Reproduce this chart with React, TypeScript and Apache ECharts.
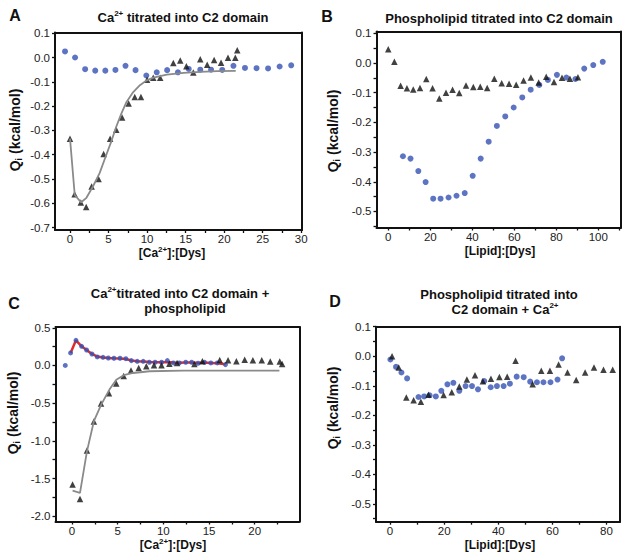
import React, { useEffect, useRef } from "react";
import * as echarts from "echarts";

const FONT = '"Liberation Sans", Arial, Helvetica, sans-serif';
const BLUE = "#3551b4";
const BLACK = "#111111";
const GRAY = "#8a8a8a";
const RED = "#e32b2b";

// ---------- Panel A : Ca2+ titrated into C2 domain ----------
const aCircles: number[][] = [
  [-0.65, 0.025], [0.65, 0.0], [1.96, -0.048], [3.27, -0.054], [4.58, -0.054], [5.89, -0.051],
  [7.2, -0.034], [8.5, -0.052], [9.9, -0.074], [11.25, -0.061], [12.6, -0.052], [14.0, -0.061],
  [15.4, -0.047], [16.9, -0.05], [18.3, -0.05], [19.75, -0.051], [21.2, -0.034], [22.7, -0.043],
  [24.2, -0.044], [25.7, -0.045], [27.2, -0.037], [28.7, -0.032],
];
const aTriangles: number[][] = [
  [0, -0.334], [0.6, -0.563], [1.4, -0.597], [2.1, -0.615], [2.8, -0.531], [3.7, -0.5],
  [4.36, -0.397], [5.2, -0.334], [6.0, -0.297], [6.76, -0.247], [7.6, -0.189], [8.4, -0.163],
  [9.2, -0.163], [10.0, -0.092], [10.8, -0.083], [11.7, -0.083], [13.4, -0.023], [14.3, -0.012],
  [15.1, -0.036], [16.0, -0.062], [16.9, -0.007], [17.8, -0.03], [18.7, -0.01], [19.6, -0.022],
  [20.5, -0.001], [21.45, -0.001], [21.7, 0.03],
];
const aFit: number[][] = [
  [0, -0.334], [0.61, -0.566], [1.44, -0.596], [2.09, -0.579], [2.97, -0.531], [3.84, -0.476],
  [4.71, -0.4], [5.36, -0.345], [6.02, -0.283], [6.67, -0.23], [7.33, -0.183], [8.2, -0.142],
  [9.07, -0.114], [9.94, -0.094], [10.82, -0.083], [12.56, -0.07], [14.74, -0.063],
  [16.92, -0.059], [19.1, -0.056], [21.5, -0.055],
];
const aXTicks = [0, 2.5, 5, 7.5, 10, 12.5, 15, 17.5, 20, 22.5, 25, 27.5, 30];
const aXLabels = [0, 5, 10, 15, 20, 25, 30];
const aYTicks = [-0.7, -0.6, -0.5, -0.4, -0.3, -0.2, -0.1, 0, 0.1];
const aYLabels = [-0.7, -0.6, -0.5, -0.4, -0.3, -0.2, -0.1, 0, 0.1];

// ---------- Panel B : Phospholipid titrated into C2 domain ----------
const bCircles: number[][] = [
  [7, -0.314], [10.6, -0.322], [14.3, -0.364], [17.8, -0.401], [21.4, -0.457], [24.9, -0.457],
  [28.7, -0.453], [32.5, -0.447], [36.4, -0.438], [40.2, -0.38], [44, -0.322], [47.8, -0.265],
  [51.7, -0.212], [55.7, -0.18], [59.7, -0.15], [63.8, -0.116], [67.8, -0.09], [71.9, -0.074],
  [76, -0.057], [80.3, -0.04], [84.8, -0.049], [89.1, -0.054], [93.3, -0.019], [97.6, -0.007],
  [102.1, 0.004],
];
const bTriangles: number[][] = [
  [0, 0.046], [2.9, 0.004], [5.9, -0.077], [8.9, -0.085], [11.9, -0.089], [15.1, -0.084],
  [18.1, -0.054], [21.1, -0.085], [24.3, -0.12], [27.5, -0.1], [30.6, -0.09], [33.8, -0.101],
  [37, -0.076], [40.5, -0.081], [43.8, -0.08], [47.1, -0.084], [50.5, -0.053], [54, -0.068],
  [57.5, -0.07], [60.9, -0.073], [64.4, -0.059], [67.9, -0.049], [71.6, -0.066], [75.2, -0.046],
  [78.9, -0.064], [82.7, -0.05], [86.5, -0.053], [90.3, -0.048],
];
const bXTicks = [0, 10, 20, 30, 40, 50, 60, 70, 80, 90, 100, 110];
const bXLabels = [0, 20, 40, 60, 80, 100];
const bYTicks = [-0.55, -0.5, -0.45, -0.4, -0.35, -0.3, -0.25, -0.2, -0.15, -0.1, -0.05, 0, 0.05, 0.1];
const bYLabels = [-0.5, -0.4, -0.3, -0.2, -0.1, 0, 0.1];

// ---------- Panel C : Ca2+ titrated into C2 domain + phospholipid ----------
const cCircles: number[][] = [
  [-0.73, 0.0], [-0.15, 0.166], [0.44, 0.333], [1.06, 0.254], [1.6, 0.205], [2.19, 0.152],
  [2.77, 0.113], [3.4, 0.108], [3.98, 0.099], [4.6, 0.095], [5.26, 0.095], [5.9, 0.09],
  [6.5, 0.064], [7.15, 0.055], [7.8, 0.055], [8.47, 0.042], [9.1, 0.042], [9.8, 0.042],
  [10.44, 0.064], [11.1, 0.033], [11.75, 0.033], [12.45, 0.042], [13.1, 0.042], [13.8, 0.029],
  [14.5, 0.042], [15.2, 0.033], [15.9, 0.033], [16.8, 0.011],
];
const cRedFit: number[][] = [
  [-0.15, 0.166], [0.44, 0.333], [1.06, 0.254], [1.6, 0.205], [2.19, 0.152], [2.77, 0.118],
  [3.4, 0.106], [3.98, 0.099], [4.6, 0.095], [5.26, 0.093], [5.9, 0.085], [6.5, 0.066],
  [7.15, 0.057], [7.8, 0.053], [8.47, 0.046], [9.1, 0.043], [9.8, 0.042], [10.44, 0.045],
  [11.1, 0.038], [11.75, 0.036], [12.45, 0.04], [13.1, 0.04], [13.8, 0.034], [14.5, 0.038],
  [15.2, 0.034], [15.9, 0.03], [16.8, 0.015],
];
const cTriangles: number[][] = [
  [0.07, -1.58], [0.88, -1.77], [1.64, -1.128], [2.4, -0.744], [3.18, -0.506], [4.05, -0.369],
  [4.85, -0.241], [5.66, -0.139], [6.46, -0.068], [7.3, -0.033], [8.14, -0.011], [8.98, 0.002],
  [9.8, 0.002], [10.66, 0.024], [11.5, 0.033], [13.4, 0.02], [14.27, 0.055], [16.17, 0.073],
  [17.08, 0.068], [17.99, 0.055], [18.9, 0.077], [19.8, 0.068], [20.77, 0.068], [21.7, 0.051],
  [22.74, 0.051], [23.0, 0.02],
];
const cFit: number[][] = [
  [0.07, -1.66], [0.88, -1.69], [1.64, -1.14], [2.4, -0.74], [3.2, -0.52], [4.1, -0.32],
  [4.85, -0.19], [5.66, -0.13], [6.7, -0.1], [8.5, -0.077], [12.2, -0.068], [15.8, -0.068],
  [19.4, -0.068], [22.7, -0.068],
];
const cXTicks = [0, 2.5, 5, 7.5, 10, 12.5, 15, 17.5, 20, 22.5, 25];
const cXLabels = [0, 5, 10, 15, 20, 25];
const cYTicks = [-2, -1.75, -1.5, -1.25, -1, -0.75, -0.5, -0.25, 0, 0.25, 0.5];
const cYLabels = [-2, -1.5, -1, -0.5, 0, 0.5];

// ---------- Panel D : Phospholipid titrated into C2 domain + Ca2+ ----------
const dCircles: number[][] = [
  [0.12, -0.011], [2.2, -0.036], [4.2, -0.055], [6.3, -0.075], [10.5, -0.138], [12.6, -0.136],
  [14.6, -0.132], [16.9, -0.136], [18.95, -0.117], [21.2, -0.095], [23.4, -0.09], [25.6, -0.117],
  [27.9, -0.101], [30.3, -0.101], [32.5, -0.112], [34.8, -0.084], [37.2, -0.105], [39.5, -0.101],
  [41.97, -0.101], [44.3, -0.093], [46.8, -0.069], [49.4, -0.071], [51.8, -0.086], [54.3, -0.088],
  [56.7, -0.088], [59.3, -0.088], [61.9, -0.079], [63.6, -0.007],
];
const dTriangles: number[][] = [
  [0.74, 0.0], [3.2, -0.038], [6.0, -0.14], [8.7, -0.149], [11.4, -0.154], [14.2, -0.13],
  [19.8, -0.131], [22.8, -0.122], [25.6, -0.102], [28.4, -0.079], [31.4, -0.064], [34.3, -0.085],
  [37.3, -0.076], [40.4, -0.07], [43.3, -0.069], [46.4, -0.015], [52.7, -0.095], [55.9, -0.049],
  [59.1, -0.049], [62.3, -0.028], [65.6, -0.055], [68.8, -0.08], [72.1, -0.055], [75.4, -0.038],
  [78.9, -0.046], [82.3, -0.046],
];
const dXTicks = [0, 10, 20, 30, 40, 50, 60, 70, 80];
const dXLabels = [0, 20, 40, 60, 80];
const dYTicks = [-0.55, -0.5, -0.45, -0.4, -0.35, -0.3, -0.25, -0.2, -0.15, -0.1, -0.05, 0, 0.05, 0.1];
const dYLabels = [-0.5, -0.4, -0.3, -0.2, -0.1, 0, 0.1];

// ---------- layout ----------
const grids = [
  { left: 55, top: 32.5, width: 247, height: 197.5 },
  { left: 376.5, top: 31.5, width: 244.5, height: 196 },
  { left: 55.5, top: 327, width: 244, height: 194.5 },
  { left: 376, top: 326.7, width: 244, height: 195 },
];

const xRanges = [
  [-1.95, 30.1],
  [-5.6, 110.8],
  [-1.8, 24.9],
  [-5.2, 85],
];
const yRanges = [
  [-0.71, 0.103],
  [-0.554, 0.106],
  [-2.07, 0.51],
  [-0.56, 0.1],
];

const frameLine = { show: true, onZero: false, lineStyle: { color: BLACK, width: 2 } };

function xAxisOf(i: number, ticks: number[], labels: number[]) {
  return {
    type: "value",
    gridIndex: i,
    position: "bottom",
    min: xRanges[i][0],
    max: xRanges[i][1],
    axisLine: frameLine,
    axisTick: { show: true, length: 3, customValues: ticks, lineStyle: { color: BLACK, width: 1.3 } },
    axisLabel: {
      customValues: labels,
      margin: 3,
      fontSize: 11.5,
      color: "#222",
      fontFamily: FONT,
      formatter: (v: number) => String(Math.round(v)),
    },
    splitLine: { show: false },
  };
}

function yAxisOf(i: number, ticks: number[], labels: number[]) {
  return {
    type: "value",
    gridIndex: i,
    position: "left",
    min: yRanges[i][0],
    max: yRanges[i][1],
    axisLine: frameLine,
    axisTick: { show: true, length: 3, customValues: ticks, lineStyle: { color: BLACK, width: 1.3 } },
    axisLabel: {
      customValues: labels,
      margin: 5,
      fontSize: 11.5,
      color: "#222",
      fontFamily: FONT,
      formatter: (v: number) => v.toFixed(1),
    },
    splitLine: { show: false },
  };
}

// plain border axes (top / right edges of each frame)
function edgeAxis(i: number, position: string, range: number[]) {
  return {
    type: "value",
    gridIndex: i,
    position,
    min: range[0],
    max: range[1],
    axisLine: frameLine,
    axisTick: { show: false },
    axisLabel: { show: false },
    splitLine: { show: false },
  };
}

function circles(i: number, data: number[][], size = 6) {
  return {
    type: "scatter",
    xAxisIndex: i,
    yAxisIndex: i,
    data,
    symbol: "circle",
    symbolSize: size,
    itemStyle: { color: BLUE },
    z: 3,
  };
}
function triangles(i: number, data: number[][]) {
  return {
    type: "scatter",
    xAxisIndex: i,
    yAxisIndex: i,
    data,
    symbol: "triangle",
    symbolSize: 6.5,
    itemStyle: { color: BLACK },
    z: 3,
  };
}
function fitLine(i: number, data: number[][], color: string, width: number, z: number) {
  return {
    type: "line",
    xAxisIndex: i,
    yAxisIndex: i,
    data,
    symbol: "none",
    showSymbol: false,
    lineStyle: { color, width },
    z,
  };
}

const rich = {
  t: { fontSize: 13, fontWeight: "bold", fontFamily: FONT, fill: BLACK, lineHeight: 16 },
  ts: { fontSize: 8, fontWeight: "bold", fontFamily: FONT, fill: BLACK, lineHeight: 8, padding: [0, 0, 8, 0] },
  n: { fontSize: 12, fontWeight: "bold", fontFamily: FONT, fill: BLACK, lineHeight: 13 },
  ns: { fontSize: 8, fontWeight: "bold", fontFamily: FONT, fill: BLACK, lineHeight: 6, padding: [0, 0, 7, 0] },
  q: { fontSize: 14, fontWeight: "bold", fontFamily: FONT, fill: BLACK, lineHeight: 17 },
  qs: { fontSize: 9, fontWeight: "bold", fontFamily: FONT, fill: BLACK, lineHeight: 9, padding: [8, 0, 0, 0] },
  L: { fontSize: 16, fontWeight: "bold", fontFamily: FONT, fill: BLACK, lineHeight: 18 },
};

function txt(x: number, y: number, text: string, rotation = 0) {
  return {
    type: "text",
    x,
    y,
    rotation,
    silent: true,
    style: { text, rich, align: "center", verticalAlign: "middle", fill: BLACK },
  };
}

const yName = "{q|Q}{qs|i}{q| (kcal/mol)}";
const caName = "{n|[Ca}{ns|2+}{n|]:[Dys]}";
const lipidName = "{n|[Lipid]:[Dys]}";

export default function App() {
  const ref = useRef<HTMLDivElement>(null);
  useEffect(() => {
    if (!ref.current) return;
    const chart = echarts.init(ref.current, undefined, { renderer: "svg" });
    const option: any = {
      animation: false,
      backgroundColor: "#ffffff",
      grid: grids.map((g) => ({ ...g, show: false, containLabel: false })),
      xAxis: [
        xAxisOf(0, aXTicks, aXLabels),
        xAxisOf(1, bXTicks, bXLabels),
        xAxisOf(2, cXTicks, cXLabels),
        xAxisOf(3, dXTicks, dXLabels),
        edgeAxis(0, "top", xRanges[0]),
        edgeAxis(1, "top", xRanges[1]),
        edgeAxis(2, "top", xRanges[2]),
        edgeAxis(3, "top", xRanges[3]),
      ],
      yAxis: [
        yAxisOf(0, aYTicks, aYLabels),
        yAxisOf(1, bYTicks, bYLabels),
        yAxisOf(2, cYTicks, cYLabels),
        yAxisOf(3, dYTicks, dYLabels),
        edgeAxis(0, "right", yRanges[0]),
        edgeAxis(1, "right", yRanges[1]),
        edgeAxis(2, "right", yRanges[2]),
        edgeAxis(3, "right", yRanges[3]),
      ],
      series: [
        circles(0, aCircles),
        triangles(0, aTriangles),
        fitLine(0, aFit, GRAY, 1.8, 4),
        circles(1, bCircles),
        triangles(1, bTriangles),
        fitLine(2, cRedFit, RED, 2.5, 2),
        circles(2, cCircles, 5),
        triangles(2, cTriangles),
        fitLine(2, cFit, GRAY, 1.8, 4),
        circles(3, dCircles),
        triangles(3, dTriangles),
      ],
      graphic: [
        txt(15, 15, "{L|A}"),
        txt(327, 16, "{L|B}"),
        txt(14, 303, "{L|C}"),
        txt(335, 301, "{L|D}"),
        txt(183, 17, "{t|Ca}{ts|2+}{t| titrated into C2 domain}"),
        txt(499, 18, "{t|Phospholipid titrated into C2 domain}"),
        txt(180, 293, "{t|Ca}{ts|2+}{t|titrated into C2 domain +}"),
        txt(185, 308, "{t|phospholipid}"),
        txt(499, 294, "{t|Phospholipid titrated into}"),
        txt(505, 309, "{t|C2 domain + Ca}{ts|2+}"),
        txt(15, 130, yName, Math.PI / 2),
        txt(333, 131, yName, Math.PI / 2),
        txt(13, 413, yName, Math.PI / 2),
        txt(333, 408, yName, Math.PI / 2),
        txt(172, 253, caName),
        txt(500, 251, lipidName),
        txt(173, 545, caName),
        txt(500, 545, lipidName),
      ],
    };
    chart.setOption(option);
    return () => chart.dispose();
  }, []);
  return (
    <div
      ref={ref}
      style={{ position: "absolute", left: 0, top: 0, width: 628, height: 555, background: "#fff" }}
    />
  );
}
